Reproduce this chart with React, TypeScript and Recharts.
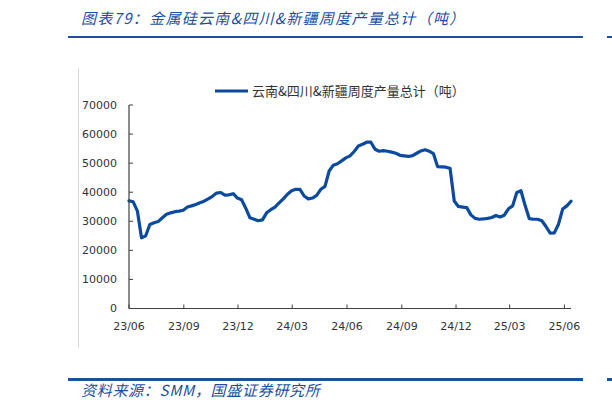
import { LineChart, Line, XAxis, YAxis, Legend } from "recharts";

// weekly output, tonnes, first week starts 2023-06-01
const startDate = "2023-06-01";
const output = [
  37000, 36700, 33600, 24300, 25000, 28900, 29500, 29900, 31200, 32400,
  32900, 33300, 33500, 33800, 34900, 35300, 35800, 36400, 36900, 37700,
  38600, 39700, 39900, 39000, 39100, 39500, 38000, 37400, 34500, 31200,
  30700, 30200, 30500, 32900, 34000, 34900, 36300, 37700, 39300, 40500,
  41000, 41000, 38700, 37700, 38000, 38900, 41000, 42000, 47300, 49300,
  49800, 50800, 51800, 52500, 54000, 55900, 56500, 57200, 57200, 54800,
  54100, 54300, 54100, 53800, 53400, 52700, 52500, 52300, 52600, 53400,
  54200, 54600, 54100, 53300, 48800, 48700, 48600, 48200, 37000, 35100,
  34900, 34700, 32200, 31000, 30700, 30800, 31000, 31300, 32000, 31500,
  32100, 34300, 35300, 39900, 40500, 35400, 30900, 30700, 30700, 30200,
  28200, 25900, 26000, 29000, 34200, 35300, 36900,
];

const yTicks = [0, 10000, 20000, 30000, 40000, 50000, 60000, 70000];
const xTickDates = [
  "2023-06-01", "2023-09-01", "2023-12-01", "2024-03-01", "2024-06-01",
  "2024-09-01", "2024-12-01", "2025-03-01", "2025-06-01",
];
const xTickLabels = ["23/06", "23/09", "23/12", "24/03", "24/06", "24/09", "24/12", "25/03", "25/06"];

const seriesName = "云南&四川&新疆周度产量总计（吨）";
const title = "图表79：金属硅云南&四川&新疆周度产量总计（吨）";
const source = "资料来源：SMM，国盛证券研究所";

const DAY = 86400000;
const t0 = Date.parse(startDate);
const data = output.map((v, i) => ({ t: t0 + i * 7 * DAY, v }));
const xTicks = xTickDates.map((d) => Date.parse(d));

const BLUE = "#1c4f9e";
const LINE = "#0b4a9e";
const AXIS = "#404040";
const TEXT = "#333333";
const tickFont = "'DejaVu Sans', Verdana, sans-serif";
const cjkFont = "'Noto Sans CJK SC', 'Noto Sans', sans-serif";

const YTick = (props: any) => {
  const { x, y, payload } = props;
  return (
    <g>
      <line x1={x + 12} x2={x + 16} y1={y} y2={y} stroke={AXIS} />
      <text x={x} y={y} dy="0.355em" textAnchor="end" fontSize={11} fontFamily={tickFont} fill={TEXT}>
        {payload.value}
      </text>
    </g>
  );
};

const XTick = (props: any) => {
  const { x, y, payload } = props;
  const idx = xTicks.indexOf(payload.value);
  return (
    <g>
      <line x1={x} x2={x} y1={y - 14} y2={y - 18} stroke={AXIS} />
      <text x={x} y={y} dy="0.71em" textAnchor="middle" fontSize={11} fontFamily={tickFont} fill={TEXT}>
        {xTickLabels[idx]}
      </text>
    </g>
  );
};

const LegendBox = () => (
  <div style={{ display: "flex", alignItems: "center", whiteSpace: "nowrap" }}>
    <svg width={33} height={4} style={{ display: "block" }}>
      <line x1={0} x2={33} y1={2} y2={2} stroke={LINE} strokeWidth={3} />
    </svg>
    <span style={{ marginLeft: 4, fontSize: 13, fontFamily: cjkFont, color: TEXT, lineHeight: "18px" }}>
      {seriesName}
    </span>
  </div>
);

export default function App() {
  return (
    <div style={{ position: "absolute", left: 0, top: 0, width: 612, height: 411, background: "#fff" }}>
      <div
        style={{
          position: "absolute", left: 81, top: 8, fontSize: 15, lineHeight: "20px", letterSpacing: 1.3,
          fontStyle: "italic", color: BLUE, fontFamily: cjkFont, whiteSpace: "nowrap",
        }}
      >
        {title}
      </div>
      <div style={{ position: "absolute", left: 68, top: 35.5, width: 515, height: 2.5, background: BLUE }} />
      <div style={{ position: "absolute", left: 607, top: 35.5, width: 5, height: 2.5, background: BLUE }} />
      <div style={{ position: "absolute", left: 78, top: 68, width: 1, height: 280, background: "#d9d9d9" }} />

      <LineChart
        width={612}
        height={411}
        data={data}
        margin={{ top: 105, right: 41, bottom: 72.5, left: 70 }}
        style={{ position: "absolute", left: 0, top: 0 }}
      >
        <XAxis
          dataKey="t"
          type="number"
          scale="time"
          domain={["dataMin", "dataMax"]}
          ticks={xTicks}
          tick={<XTick />}
          tickLine={false}
          tickSize={0}
          tickMargin={14}
          height={30}
          axisLine={{ stroke: AXIS, strokeWidth: 1.2 }}
          interval={0}
        />
        <YAxis
          type="number"
          domain={[0, 70000]}
          ticks={yTicks}
          tick={<YTick />}
          tickLine={false}
          tickSize={0}
          tickMargin={12}
          width={59}
          axisLine={{ stroke: AXIS, strokeWidth: 1.2 }}
          interval={0}
        />
        <Legend
          layout="horizontal"
          verticalAlign="middle"
          align="center"
          content={<LegendBox />}
          wrapperStyle={{ position: "absolute", top: 82, left: 215, width: "auto" }}
        />
        <Line
          type="linear"
          dataKey="v"
          name={seriesName}
          stroke={LINE}
          strokeWidth={3.2}
          strokeLinejoin="round"
          strokeLinecap="round"
          dot={false}
          isAnimationActive={false}
        />
      </LineChart>

      <div style={{ position: "absolute", left: 68, top: 378, width: 515, height: 2.5, background: BLUE }} />
      <div style={{ position: "absolute", left: 607, top: 378, width: 5, height: 2.5, background: BLUE }} />
      <div
        style={{
          position: "absolute", left: 81, top: 380, fontSize: 15, lineHeight: "20px", letterSpacing: 0.7,
          fontStyle: "italic", color: BLUE, fontFamily: cjkFont, whiteSpace: "nowrap",
        }}
      >
        {source}
      </div>
    </div>
  );
}
